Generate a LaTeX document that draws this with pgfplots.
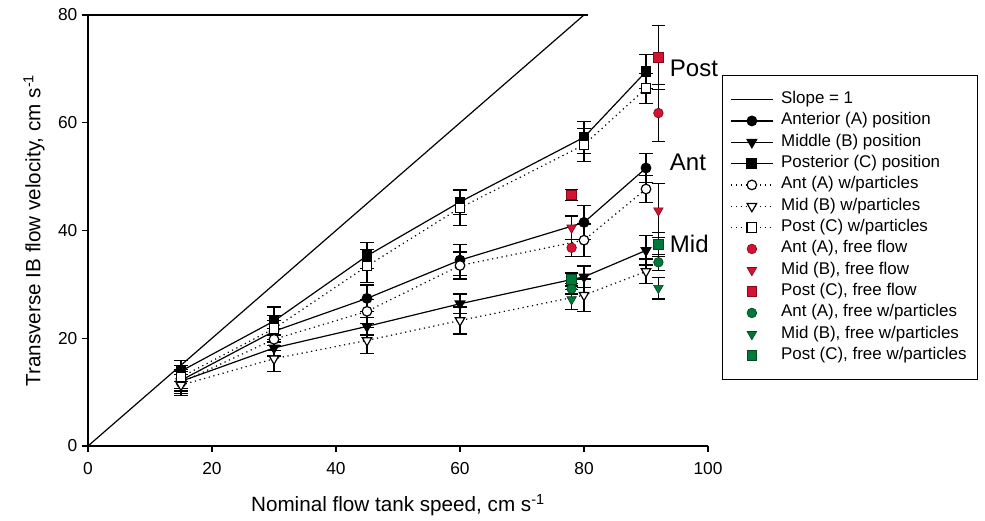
\documentclass[border=0pt]{standalone}
\usepackage{fontspec}
\setmainfont{Liberation Sans}
\usepackage{pgfplots}
\pgfplotsset{compat=1.18}
\definecolor{ffred}{RGB}{214,18,50}
\definecolor{ffgreen}{RGB}{0,120,55}
\pgfplotsset{
  lineleg/.style={legend image code/.code={\draw[mark repeat=2,mark phase=2,##1] plot coordinates {(0pt,0pt) (15.5pt,0pt) (31pt,0pt)};}},
  markleg/.style={legend image code/.code={\draw[mark repeat=2,mark phase=2,only marks,##1] plot coordinates {(0pt,0pt) (15.5pt,0pt) (31pt,0pt)};}},
  ebars/.style={error bars/y dir=both, error bars/y explicit,
    error bars/error bar style={line width=0.9pt, solid, black},
    error bars/error mark options={rotate=90, mark size=5pt, line width=0.9pt, solid, black}},
  solidser/.style={black, line width=0.9pt, mark size=3.6pt, ebars, mark options={solid}, lineleg},
  dotser/.style={black, line width=0.9pt, dash pattern=on 0.9pt off 2.7pt, mark size=3.6pt, ebars, mark options={solid, fill=white}, lineleg},
  redser/.style={only marks, mark size=3.6pt, ebars, mark options={fill=ffred, draw=ffred!60!black, line width=0.5pt}, markleg},
  grnser/.style={only marks, mark size=3.6pt, ebars, mark options={fill=ffgreen, draw=ffgreen!60!black, line width=0.5pt}, markleg},
  tri/.style={mark=triangle*, mark size=4.1pt, every mark/.append style={rotate=180}},
}
\begin{document}
\begin{tikzpicture}
\useasboundingbox (-66pt,-56.25pt) rectangle (672.75pt,334.5pt);
\begin{axis}[
  at={(0,0)}, anchor=south west,
  scale only axis, width=465pt, height=323.25pt,
  xmin=0, xmax=100, ymin=0, ymax=80,
  xtick={0,20,...,100}, ytick={0,20,...,80},
  axis x line=bottom, axis y line=left,
  axis line style={-, line width=1pt},
  tick align=outside, major tick length=4.5pt,
  tick style={line width=1pt, black},
  /pgf/number format/assume math mode=true,
  ticklabel style={font=\fontsize{13}{15}\selectfont},
  xticklabel style={yshift=-4pt},
  clip=false,
  xlabel={Nominal flow tank speed, cm s\textsuperscript{-1}},
  ylabel={Transverse IB flow velocity, cm s\textsuperscript{-1}},
  label style={font=\fontsize{15.5}{18}\selectfont},
  xlabel style={at={(axis description cs:0.5,-0.137)}, anchor=center},
  ylabel style={at={(axis description cs:-0.0871,0.5)}, anchor=center},
  legend cell align=left,
  legend style={at={(1.0226,0.8608)}, anchor=north west, draw=black, line width=0.9pt,
    inner xsep=6pt, inner ysep=10pt, column sep=4pt,
    font=\fontsize{12.7}{15}\selectfont,
    nodes={text height=9pt, text depth=3pt, inner sep=2pt}},
]
\addplot[black, line width=0.9pt, lineleg] coordinates {(0,0) (80,80)};
\addlegendentry{Slope = 1}

\addplot[solidser, mark=*] coordinates {
  (15,12.2) +- (0,2.0) (30,21.3) +- (0,2.0) (45,27.4) +- (0,2.5)
  (60,34.5) +- (0,2.9) (80,41.5) +- (0,3.1) (90,51.6) +- (0,2.7)};
\addlegendentry{Anterior (A) position}
\addplot[solidser, tri] coordinates {
  (15,12.0) +- (0,1.8) (30,18.2) +- (0,1.5) (45,22.2) +- (0,1.6)
  (60,26.4) +- (0,1.8) (80,31.4) +- (0,2.0) (90,36.3) +- (0,2.7)};
\addlegendentry{Middle (B) position}
\addplot[solidser, mark=square*] coordinates {
  (15,13.9) +- (0,2.0) (30,23.2) +- (0,2.6) (45,35.3) +- (0,2.4)
  (60,45.3) +- (0,2.3) (80,57.3) +- (0,3.0) (90,69.5) +- (0,3.1)};
\addlegendentry{Posterior (C) position}

\addplot[dotser, mark=*] coordinates {
  (15,11.8) +- (0,2.0) (30,19.8) +- (0,2.0) (45,25.0) +- (0,2.2)
  (60,33.5) +- (0,2.5) (80,38.2) +- (0,3.0) (90,47.7) +- (0,2.5)};
\addlegendentry{Ant (A) w/particles}
\addplot[dotser, tri] coordinates {
  (15,11.3) +- (0,2.0) (30,16.2) +- (0,2.4) (45,19.6) +- (0,2.4)
  (60,23.3) +- (0,2.5) (80,28.0) +- (0,3.0) (90,32.4) +- (0,2.3)};
\addlegendentry{Mid (B) w/particles}
\addplot[dotser, mark=square*] coordinates {
  (15,12.8) +- (0,2.2) (30,21.8) +- (0,2.4) (45,33.4) +- (0,3.0)
  (60,44.2) +- (0,3.2) (80,55.9) +- (0,3.1) (90,66.4) +- (0,2.8)};
\addlegendentry{Post (C) w/particles}

\addplot[redser, mark=*] coordinates {(78,36.8) +- (0,1.6) (92,61.8) +- (0,5.3)};
\addlegendentry{Ant (A), free flow}
\addplot[redser, tri] coordinates {(78,40.5) +- (0,2.2) (92,43.7) +- (0,5.0)};
\addlegendentry{Mid (B), free flow}
\addplot[redser, mark=square*] coordinates {(78,46.6) +- (0,1.0) (92,72.1) +- (0,6.0)};
\addlegendentry{Post (C), free flow}

\addplot[grnser, mark=*] coordinates {(78,29.2) +- (0,1.0) (92,34.1) +- (0,1.5)};
\addlegendentry{Ant (A), free w/particles}
\addplot[grnser, tri] coordinates {(78,27.2) +- (0,1.8) (92,29.3) +- (0,2.0)};
\addlegendentry{Mid (B), free w/particles}
\addplot[grnser, mark=square*] coordinates {(78,30.9) +- (0,1.2) (92,37.4) +- (0,2.2)};
\addlegendentry{Post (C), free w/particles}

\draw[line width=1pt] (axis cs:0,80) -- (axis cs:80.6,80);
\node[anchor=west, font=\fontsize{18}{20}\selectfont] at (axis cs:93.1,70.1) {Post};
\node[anchor=west, font=\fontsize{18}{20}\selectfont] at (axis cs:93.1,52.7) {Ant};
\node[anchor=west, font=\fontsize{18}{20}\selectfont] at (axis cs:93.1,37.5) {Mid};
\end{axis}
\end{tikzpicture}
\end{document}
